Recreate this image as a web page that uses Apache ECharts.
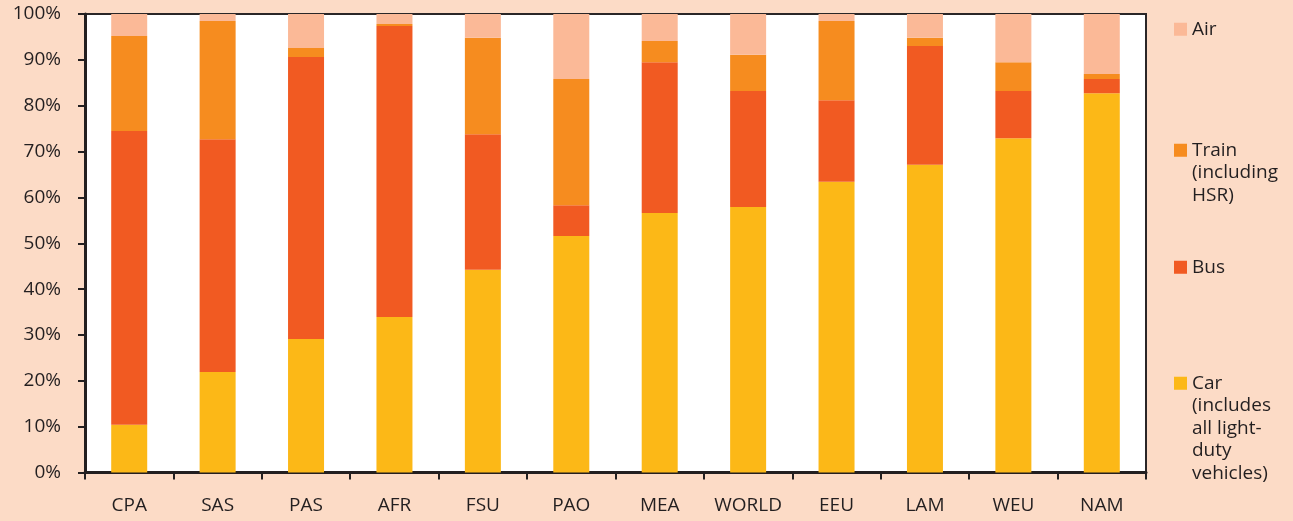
<!DOCTYPE html>
<html>
<head>
<meta charset="utf-8">
<script src="https://cdn.jsdelivr.net/npm/echarts@6/dist/echarts.min.js"></script>
<style>
  html, body { margin: 0; padding: 0; background: #FCDBC6; }
  #chart { width: 1293px; height: 521px; }
</style>
</head>
<body>
<div id="chart"></div>
<script>
// regions, ordered by car share
var regions = ['CPA', 'SAS', 'PAS', 'AFR', 'FSU', 'PAO', 'MEA', 'WORLD', 'EEU', 'LAM', 'WEU', 'NAM'];

// mode shares in %
var car   = [10.4, 21.9, 29.1, 33.9, 44.2, 51.6, 56.6, 57.9, 63.4, 67.1, 72.9, 82.7];
var bus   = [64.1, 50.8, 61.5, 63.5, 29.6,  6.7, 32.9, 25.3, 17.8, 25.9, 10.3,  3.1];
var train = [20.7, 25.8,  2.0,  0.4, 21.0, 27.5,  4.6,  7.9, 17.3,  1.8,  6.3,  1.1];
var air   = [ 4.8,  1.5,  7.4,  2.2,  5.2, 14.2,  5.9,  8.9,  1.5,  5.2, 10.5, 13.1];

var yTicks = [0, 10, 20, 30, 40, 50, 60, 70, 80, 90, 100];

var carName = 'Car\n(includes\nall light-\nduty\nvehicles)';
var trainName = 'Train\n(including\nHSR)';

var txt = '#231F20';
var font = 'Open Sans';
var LH = 22.5;

var dom = document.getElementById('chart');
var myChart = echarts.init(dom);

// one legend per item so the square sits next to the first text line
function legendAt(name, top, lines) {
  var h = LH * lines;
  var sq = (LH - 13) / 2;
  var icon = 'path://M0,0L13,0M0,' + sq + 'H13V' + (sq + 13) + 'H0Z M0,' + h + 'L13,' + h;
  return {
    data: [name],
    orient: 'vertical',
    left: 1174,
    top: top,
    padding: 0,
    itemWidth: 13,
    itemHeight: h,
    itemGap: 0,
    icon: icon,
    selectedMode: false,
    textStyle: {
      color: txt,
      fontFamily: font,
      fontSize: 19,
      lineHeight: LH,
      padding: [0, 0, 0, 0]
    }
  };
}

function bar(name, data, color) {
  return {
    name: name,
    type: 'bar',
    stack: 'share',
    barWidth: 36,
    data: data,
    itemStyle: { color: color },
    emphasis: { disabled: true }
  };
}

var option = {
  backgroundColor: '#FCDBC6',
  animation: false,
  textStyle: { fontFamily: font },
  legend: [
    legendAt('Air', 18, 1),
    legendAt(trainName, 139, 3),
    legendAt('Bus', 256, 1),
    legendAt(carName, 372, 5)
  ],
  grid: {
    left: 85,
    right: 147,
    top: 14,
    bottom: 48.5,
    show: true,
    backgroundColor: '#ffffff',
    borderColor: '#2a2627',
    borderWidth: 2
  },
  xAxis: {
    type: 'category',
    data: regions,
    axisLine: { lineStyle: { color: txt, width: 3 } },
    axisTick: { show: true, length: 7, lineStyle: { color: txt, width: 2 } },
    axisLabel: { color: txt, fontSize: 19, fontFamily: font, margin: 24 }
  },
  yAxis: {
    type: 'value',
    min: 0,
    max: 100,
    interval: 10,
    axisLine: { show: true, lineStyle: { color: txt, width: 3 } },
    axisTick: { show: true, length: 7, lineStyle: { color: txt, width: 2 } },
    splitLine: { show: false },
    axisLabel: {
      color: txt, fontSize: 19, fontFamily: font, margin: 24,
      formatter: function (v) { return yTicks.indexOf(v) >= 0 ? v + '%' : ''; }
    }
  },
  series: [
    bar(carName, car, '#FCB817'),
    bar('Bus', bus, '#F15A22'),
    bar(trainName, train, '#F68C1F'),
    bar('Air', air, '#FBB997')
  ]
};

myChart.setOption(option, true);
</script>
</body>
</html>
